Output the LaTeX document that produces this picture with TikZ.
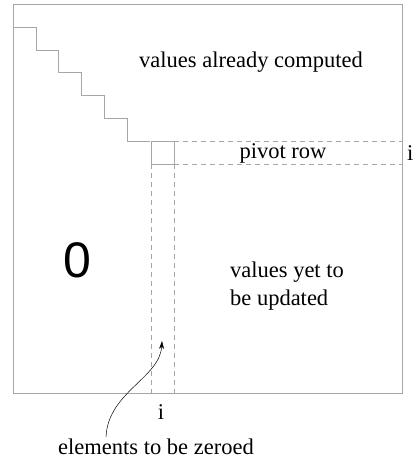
\documentclass[tikz,border=0pt]{standalone}
\usepackage{fontspec}
\setmainfont{Liberation Serif}
\newfontfamily\zerofont{Liberation Sans}
\usetikzlibrary{
  positioning,
  calc,
  arrows.meta,
}
\tikzset{
  grid line/.style={
    draw,
    gray!70,
    line width=0.8pt
  },
  guide line/.style={
    grid line,
    dashed,
    dash pattern=on 5pt off 4pt
  },
  label text/.style={
    font=\fontsize{22.5}{28}\selectfont,
    inner sep=0pt,
    align=left
  }
}

\begin{document}
\begin{tikzpicture}[x=1pt, y=-1pt]
  \useasboundingbox (0,0) rectangle (415,461);
  % matrix frame
  \draw[grid line] (13,4) rectangle (402,393);
  % staircase of finished rows
  \draw[grid line] (13,27)
    \foreach \k in {1,...,5} {
      -- ++(22.9,0) -- ++(0,22.9)
    } -- ++(22.9,0);
  % pivot element
  \coordinate (pnw) at (151,141);
  \coordinate (pse) at (174,164);
  \draw[grid line] (pnw) rectangle (pse);
  \draw[guide line] (pse |- pnw) -- (402,141);
  \draw[guide line] (pse) -- (402,164);
  \draw[guide line] (pnw |- pse) -- (151,393);
  \draw[guide line] (pse) -- (174,393);

  \node[label text] (done)   at (251,62)  {values already computed};
  \node[label text] (pivot)  at (283,153) {pivot row};
  \node[label text, anchor=west] (rowi) at (407,153) {i};
  \node[label text] (todo)   at (287,286) {values yet to\\be updated};
  \node[font=\zerofont\fontsize{50}{50}\selectfont, inner sep=0pt] (zero) at (77,260) {0};
  \node[label text] (coli)   at (161,412) {i};
  \node[label text] (zeroed) at (156,447) {elements to be zeroed};

  \coordinate (tip) at (162,341);
  \draw[-{Stealth[length=8pt,width=5pt]}, black, line width=0.5pt]
    ($(zeroed.north west)+(48,-2)$) .. controls (108,392) and (160,378) .. (tip);
\end{tikzpicture}
\end{document}
